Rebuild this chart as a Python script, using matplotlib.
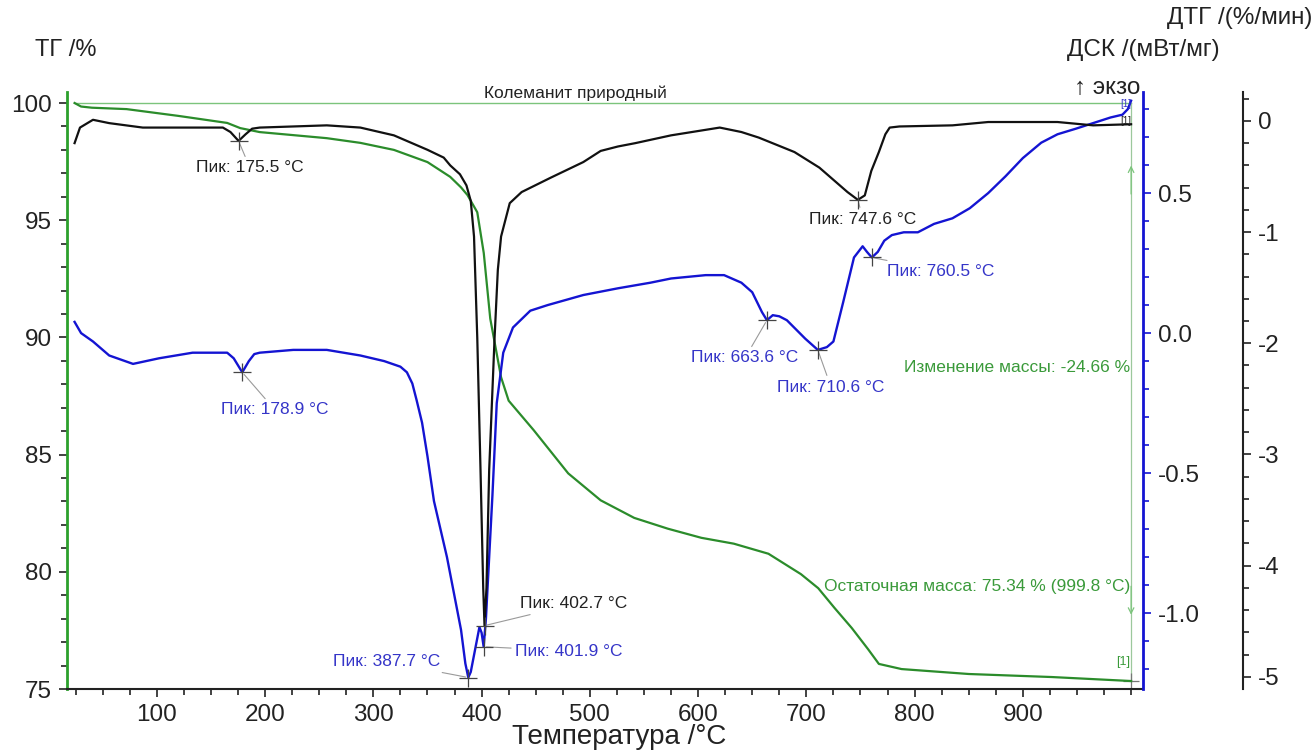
import matplotlib
matplotlib.use("Agg")
import matplotlib.pyplot as plt
from matplotlib.ticker import MultipleLocator, FixedLocator, FormatStrFormatter

plt.rcParams['font.family'] = ['Liberation Sans', 'DejaVu Sans']
plt.rcParams['axes.unicode_minus'] = False

# ТГ (green), %
tg_t = [24, 30, 40, 72, 120, 165, 177, 195, 257, 288, 319, 350, 371, 381, 387, 396,
        402, 408, 418, 425, 448, 480, 510, 541, 572, 603, 633, 665, 695, 711, 726,
        742, 757, 767, 788, 850, 927, 1000]
tg_v = [100.0, 99.85, 99.80, 99.74, 99.45, 99.15, 98.93, 98.76, 98.50, 98.30, 98.00,
        97.48, 96.85, 96.40, 96.07, 95.34, 93.6, 90.8, 88.3, 87.3, 86.05, 84.2, 83.05,
        82.3, 81.84, 81.45, 81.2, 80.77, 79.9, 79.3, 78.46, 77.6, 76.7, 76.07, 75.85,
        75.64, 75.51, 75.34]

# ДТГ (black), %/мин
dtg_t = [24, 29, 41, 56, 87, 133, 161, 168, 175.5, 182, 188, 195, 226, 257, 288, 319,
         350, 365, 371, 380, 386, 390, 393, 396, 399, 401.5, 402.7, 404.5, 407, 412,
         415, 418, 426, 437, 464, 494, 510, 526, 542, 575, 620, 640, 656, 689, 712,
         738, 747.6, 754, 760, 767, 773, 777, 786, 835, 868, 932, 965, 1000]
dtg_v = [-0.20, -0.06, 0.01, -0.02, -0.06, -0.06, -0.06, -0.10, -0.18, -0.12, -0.07,
         -0.06, -0.05, -0.04, -0.06, -0.13, -0.26, -0.33, -0.40, -0.48, -0.58, -0.72,
         -1.04, -1.95, -3.14, -4.2, -4.54, -4.2, -3.14, -1.95, -1.34, -1.04, -0.74,
         -0.64, -0.51, -0.37, -0.27, -0.23, -0.20, -0.13, -0.06, -0.10, -0.15, -0.28,
         -0.42, -0.64, -0.71, -0.67, -0.45, -0.28, -0.12, -0.06, -0.05, -0.04, -0.01,
         -0.01, -0.04, -0.03]

# ДСК (blue), мВт/мг
dsc_t = [24, 30, 41, 56, 78, 102, 133, 165, 171, 178.9, 185, 190, 195, 226, 257, 288,
         310, 325, 331, 336, 340, 345, 350, 356, 362, 368, 374, 381, 385, 387.7, 390,
         394, 398, 400, 401.9, 404, 407, 410, 414, 420, 429, 445, 461, 494, 526, 556,
         575, 607, 624, 640, 650, 659, 663.6, 669, 675, 682, 699, 710.6, 719, 725,
         734, 744, 752, 756, 760.5, 766, 772, 779, 790, 803, 818, 835, 851, 868, 884,
         900, 917, 932, 949, 965, 981, 992, 997, 1000]
dsc_v = [0.04, 0.00, -0.03, -0.08, -0.11, -0.09, -0.07, -0.07, -0.09, -0.14, -0.10,
         -0.075, -0.07, -0.06, -0.06, -0.08, -0.10, -0.12, -0.14, -0.18, -0.24, -0.32,
         -0.44, -0.60, -0.70, -0.80, -0.92, -1.06, -1.18, -1.23, -1.21, -1.13, -1.05,
         -1.07, -1.12, -1.02, -0.80, -0.58, -0.25, -0.07, 0.02, 0.08, 0.10, 0.136, 0.16,
         0.18, 0.195, 0.207, 0.207, 0.18, 0.146, 0.075, 0.046, 0.064, 0.06, 0.046,
         -0.02, -0.06, -0.05, -0.03, 0.11, 0.27, 0.31, 0.29, 0.27, 0.29, 0.33, 0.35,
         0.36, 0.36, 0.39, 0.41, 0.446, 0.50, 0.56, 0.625, 0.68, 0.71, 0.73, 0.75,
         0.77, 0.78, 0.80, 0.83]

# peaks
dtg_peak_t = [175.5, 402.7, 747.6]
dtg_peak_v = [-0.18, -4.54, -0.71]
dsc_peak_t = [178.9, 387.7, 401.9, 663.6, 710.6, 760.5]
dsc_peak_v = [-0.14, -1.23, -1.12, 0.046, -0.06, 0.27]

mass_change = -24.66
residual = 75.34
residual_t = 999.8

GREEN = '#2b8c2b'
GREEN_TXT = '#3a9a3a'
BLUE = '#1414d2'
BLUE_TXT = '#3535c8'
W, H = 1315, 750
TICK_FS = 17.5
NOTE_FS = 12.5


def fp(x, y):
    # figure pixels, measured from top-left
    return (x, H - y)


def ff(x, y):
    # same point as figure fraction
    return (x / W, 1 - y / H)


fig = plt.figure(figsize=(W / 100, H / 100), dpi=100)
ax = fig.add_axes([67 / W, 1 - 689 / H, (1143 - 67) / W, (689 - 92) / H])
ax_dsc = ax.twinx()
ax_dtg = ax.twinx()
ax_dtg.spines['right'].set_position(('axes', 1.093))

# TG axis
ax.set_xlim(17, 1011)
ax.set_ylim(75, 100.47)
ax.plot(tg_t, tg_v, color=GREEN, lw=1.6, zorder=3)
ax.plot([tg_t[0], 1000], [100, 100], color='#7cc47c', lw=1.0)
ax.plot([1000, 1000], [100, residual], color='#9cc89c', lw=0.9)
ax.annotate('', xy=(1000, 97.45), xytext=(1000, 96.0),
            arrowprops=dict(arrowstyle='->', color='#7cc47c', lw=0.9))
ax.annotate('', xy=(1000, 78.05), xytext=(1000, 79.5),
            arrowprops=dict(arrowstyle='->', color='#7cc47c', lw=0.9))
ax.plot([1000], [residual], '+', color='#777777', ms=12, mew=0.9)

ax.xaxis.set_major_locator(FixedLocator(range(100, 1000, 100)))
ax.xaxis.set_minor_locator(MultipleLocator(25))
ax.yaxis.set_major_locator(MultipleLocator(5))
ax.yaxis.set_minor_locator(MultipleLocator(1))
ax.tick_params(axis='both', which='major', length=6, width=1.2, labelsize=TICK_FS,
               colors='#222222')
ax.tick_params(axis='both', which='minor', length=4, width=1.2, colors='#222222')
ax.tick_params(axis='y', pad=5)
ax.tick_params(axis='x', pad=5)
ax.spines['top'].set_visible(False)
ax.spines['right'].set_visible(False)
ax.spines['left'].set_color('#2ca02c')
ax.spines['left'].set_linewidth(2)
ax.spines['bottom'].set_color('#222222')
ax.spines['bottom'].set_linewidth(1.5)

# DSC axis
ax_dsc.set_ylim(-1.271, 0.861)
ax_dsc.plot(dsc_t, dsc_v, color=BLUE, lw=1.7, zorder=3)
ax_dsc.plot(dsc_peak_t, dsc_peak_v, '+', color='#444444', ms=13, mew=0.9, zorder=4)
ax_dsc.yaxis.set_major_locator(FixedLocator([-1.0, -0.5, 0.0, 0.5]))
ax_dsc.yaxis.set_major_formatter(FormatStrFormatter('%.1f'))
ax_dsc.yaxis.set_minor_locator(MultipleLocator(0.1))
ax_dsc.tick_params(axis='y', which='major', length=6, width=1.2, labelsize=TICK_FS,
                   color=BLUE, labelcolor='#222222', pad=5)
ax_dsc.tick_params(axis='y', which='minor', length=4, width=1.2, color=BLUE)
for s in ['top', 'left', 'bottom']:
    ax_dsc.spines[s].set_visible(False)
ax_dsc.spines['right'].set_color(BLUE)
ax_dsc.spines['right'].set_linewidth(2)

# DTG axis
ax_dtg.set_ylim(-5.11, 0.26)
ax_dtg.plot(dtg_t, dtg_v, color='#111111', lw=1.6, zorder=3)
ax_dtg.plot(dtg_peak_t, dtg_peak_v, '+', color='#444444', ms=13, mew=0.9, zorder=4)
ax_dtg.yaxis.set_major_locator(FixedLocator([0, -1, -2, -3, -4, -5]))
ax_dtg.yaxis.set_minor_locator(MultipleLocator(0.2))
ax_dtg.tick_params(axis='y', which='major', length=6, width=1.2, labelsize=TICK_FS,
                   colors='#222222', pad=5)
ax_dtg.tick_params(axis='y', which='minor', length=4, width=1.2, color='#222222')
for s in ['top', 'left', 'bottom']:
    ax_dtg.spines[s].set_visible(False)
ax_dtg.spines['right'].set_color('#222222')
ax_dtg.spines['right'].set_linewidth(1.5)

# peak labels
leader = dict(arrowstyle='-', color='#9a9a9a', lw=0.8, shrinkA=1, shrinkB=2)
dtg_label_pos = [(250, 168), (574, 604), (863, 219)]
for t, v, pos in zip(dtg_peak_t, dtg_peak_v, dtg_label_pos):
    ax_dtg.annotate(f'Пик: {t:.1f} °C', xy=(t, v), xytext=fp(*pos),
                    textcoords='figure pixels', ha='center', va='center',
                    fontsize=NOTE_FS, color='#222222', arrowprops=leader)
dsc_label_pos = [(275, 410), (387, 662), (569, 651), (745, 358), (831, 387), (941, 271)]
for t, v, pos in zip(dsc_peak_t, dsc_peak_v, dsc_label_pos):
    ax_dsc.annotate(f'Пик: {t:.1f} °C', xy=(t, v), xytext=fp(*pos),
                    textcoords='figure pixels', ha='center', va='center',
                    fontsize=NOTE_FS, color=BLUE_TXT, arrowprops=leader)

fig.text(*ff(1130, 368), f'Изменение массы: {mass_change:.2f} %', ha='right', va='center',
         fontsize=NOTE_FS, color=GREEN_TXT)
fig.text(*ff(1130, 586), f'Остаточная масса: {residual:.2f} % ({residual_t:.1f} °C)',
         ha='right', va='center', fontsize=NOTE_FS, color=GREEN_TXT)
fig.text(*ff(1130, 662), '[1]', ha='right', va='center', fontsize=9, color=GREEN_TXT)
fig.text(*ff(1131, 121), '[1]', ha='right', va='center', fontsize=7, color='#222222')
fig.text(*ff(1131, 104), '[1]', ha='right', va='center', fontsize=7, color=BLUE_TXT)
fig.text(*ff(575, 93), 'Колеманит природный', ha='center', va='center',
         fontsize=12.5, color='#222222')

# axis titles
fig.text(*ff(35, 50), 'ТГ /%', ha='left', va='center', fontsize=17, color='#222222')
fig.text(*ff(1312, 18), 'ДТГ /(%/мин)', ha='right', va='center', fontsize=17.5,
         color='#222222')
fig.text(*ff(1220, 50), 'ДСК /(мВт/мг)', ha='right', va='center', fontsize=17.5,
         color='#222222')
fig.text(*ff(1140, 88), '↑ экзо', ha='right', va='center', fontsize=17.5, color='#222222')
fig.text(*ff(619, 737), 'Температура /°C', ha='center', va='center', fontsize=20,
         color='#222222')

fig.savefig('out.png', dpi=100)
